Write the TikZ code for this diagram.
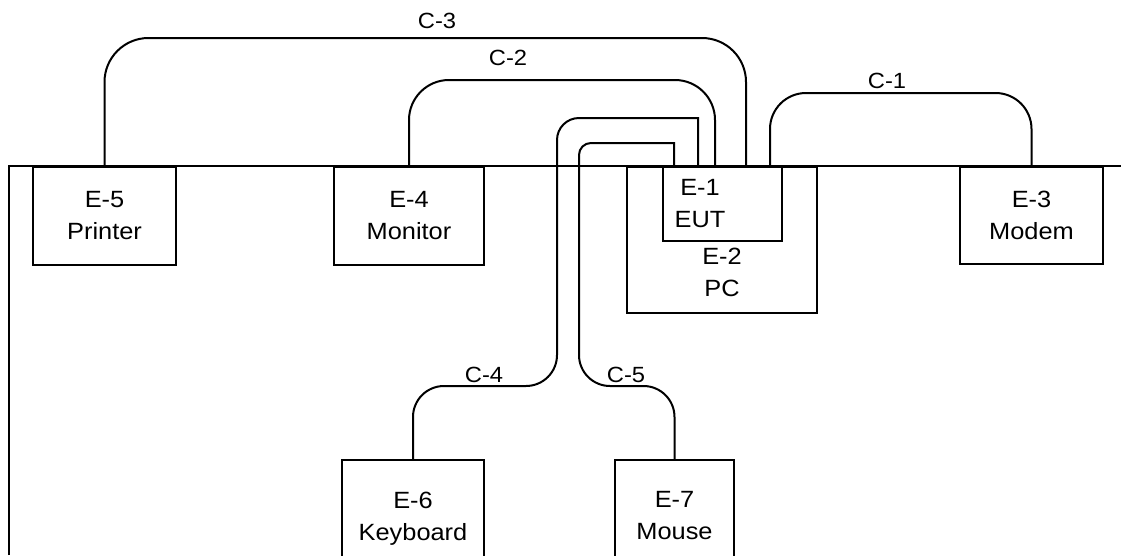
\documentclass[tikz,border=0pt]{standalone}
\usepackage{fontspec}
\setmainfont{Liberation Sans}[FakeStretch=1.08]
\usepackage{tikz}
\usetikzlibrary{positioning,calc}

\begin{document}
\begin{tikzpicture}[
        x=1pt, y=-1pt,
        every node/.style={font=\fontsize{23.5}{32}\selectfont, align=center},
        unit/.style={draw, line width=1.8pt, anchor=north, inner sep=0pt, minimum width=143, minimum height=98},
        cable/.style={draw, line width=2pt},
        tag/.style={font=\fontsize{22}{26}\selectfont, anchor=base, inner sep=0pt}
      ]
      \useasboundingbox[fill=white] (0,0) rectangle (1121,555);
      \clip (0,0) rectangle (1121,555);

      % table edge
      \coordinate (wall) at (9,555);
      \coordinate (edgeL) at (9,166);
      \coordinate (edgeR) at (1121,166);
      \draw[cable] (wall) -- (edgeL) -- (edgeR);

      % units on the table
      \node[unit] (printer) at (104.5,166) {E-5\\Printer};
      \node[unit, minimum width=150] (monitor) at (409,166) {E-4\\Monitor};
      \node[unit, minimum width=190, minimum height=146] (pc) at (722,166) {};
      \node[unit, minimum width=119, minimum height=74] (eut) at (722.5,166) {};
      \node (euttext) at (700,203.5) {E-1\\EUT};
      \node (pctext) at (722,272) {E-2\\PC};
      \node[unit, minimum height=97] (modem) at (1031.5,166) {E-3\\Modem};

      % units on the floor
      \node[unit, minimum width=142, minimum height=118] (keyboard) at (413,459) {E-6\\Keyboard};
      \node[unit, minimum width=119, minimum height=112] (mouse) at (674.5,459) {E-7\\Mouse};

      % cables
      \draw[cable, rounded corners=36] ([xshift=47.5]eut.north) -- ++(0,-73) -| (modem.north);
      \draw[cable, rounded corners=40] (monitor.north) -- ++(0,-86) -| ([xshift=-7.5]eut.north);
      \draw[cable, rounded corners=44] (printer.north) -- ++(0,-128) -| ([xshift=23.5]eut.north);
      \draw[cable] ([xshift=-24.5]eut.north) -- ++(0,-48) [rounded corners=22] -- (557,118)
        [rounded corners=31] -- (557,386) -| (keyboard.north);
      \draw[cable] ([xshift=-48.5]eut.north) -- ++(0,-23) [rounded corners=12] -- (579,143)
        [rounded corners=31] -- (579,386) -| (mouse.north);

      % cable labels
      \node[tag] (c1) at (887,88) {C-1};
      \node[tag] (c2) at (508,65) {C-2};
      \node[tag] (c3) at (437,28) {C-3};
      \node[tag] (c4) at (484,382) {C-4};
      \node[tag] (c5) at (626,382) {C-5};
\end{tikzpicture}
\end{document}
